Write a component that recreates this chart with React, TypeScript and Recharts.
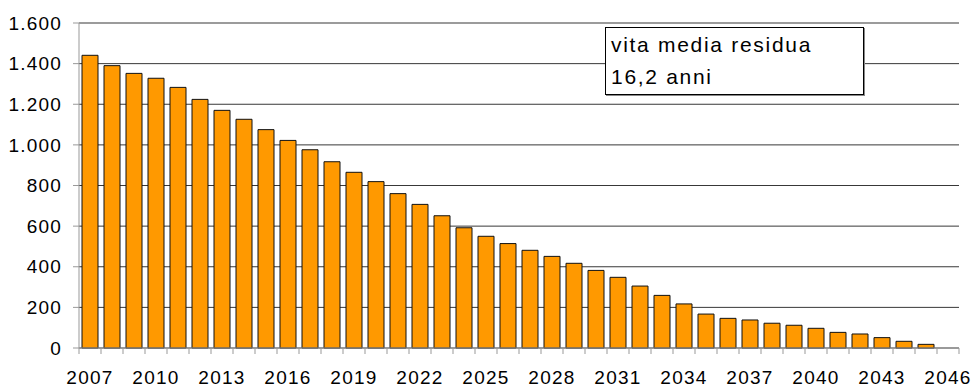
import React from "react";
import { BarChart, Bar, XAxis, YAxis, CartesianGrid } from "recharts";

const years: string[] = [
  "2007","2008","2009","2010","2011","2012","2013","2014","2015","2016",
  "2017","2018","2019","2020","2021","2022","2023","2024","2025","2026",
  "2027","2028","2029","2030","2031","2032","2033","2034","2035","2036",
  "2037","2038","2039","2040","2041","2042","2043","2044","2045","2046",
];
const values: number[] = [
  1441, 1390, 1352, 1328, 1283, 1224, 1170, 1126, 1075, 1022,
  976, 917, 865, 819, 760, 707, 651, 592, 550, 514,
  481, 451, 417, 382, 348, 305, 259, 217, 167, 146,
  138, 122, 112, 97, 77, 69, 51, 33, 18, 0,
];
const yTicks: number[] = [0, 200, 400, 600, 800, 1000, 1200, 1400, 1600];
const noteLines: string[] = ["vita media residua", "16,2 anni"];

const data = years.map((y, i) => ({ year: y, value: values[i] }));

const FONT = "'Liberation Sans', Arial, sans-serif";
const fmt = (v: number) => v.toLocaleString("de-DE");

const XTick = (props: any) => {
  const { x, y, payload, index } = props;
  const band = 880 / years.length;
  const i = index ?? payload.index;
  return (
    <g>
      <line x1={x - band / 2} x2={x - band / 2} y1={y - 8} y2={y - 2} stroke="#999" />
      {i === years.length - 1 && (
        <line x1={x + band / 2} x2={x + band / 2} y1={y - 8} y2={y - 2} stroke="#999" />
      )}
      {i % 3 === 0 && (
        <text x={x} y={y + 28} textAnchor="middle" fill="#000" fontSize={19} letterSpacing={1.3} fontFamily={FONT}>
          {payload.value}
        </text>
      )}
    </g>
  );
};

export default function App() {
  return (
    <div style={{ position: "absolute", left: 0, top: 0, width: 975, height: 388, background: "#fff", fontFamily: FONT }}>
      <BarChart
        width={975}
        height={388}
        data={data}
        margin={{ top: 23, right: 16, bottom: 0, left: 0 }}
        barSize={16}
      >
        <CartesianGrid horizontal vertical={false} stroke="#222" strokeOpacity={0.9} />
        <XAxis
          dataKey="year"
          interval={0}
          height={40}
          axisLine={{ stroke: "#999" }}
          tickLine={false}
          tick={<XTick />}
        />
        <YAxis
          width={79}
          domain={[0, 1600]}
          ticks={yTicks}
          tickFormatter={fmt}
          axisLine={{ stroke: "#999" }}
          tickLine={{ stroke: "#999" }}
          tickSize={6}
          tickMargin={11}
          tick={{ fill: "#000", fontSize: 19, fontFamily: FONT, letterSpacing: 1.2 }}
        />
        <Bar dataKey="value" fill="#FF9900" stroke="#111" strokeWidth={1} isAnimationActive={false} />
      </BarChart>
      <div
        style={{
          position: "absolute",
          left: 605,
          top: 27,
          width: 252,
          height: 65,
          border: "1px solid #000",
          background: "#fff",
          boxShadow: "1px 1px 0 #888",
          fontSize: 21,
          letterSpacing: 1.7,
          lineHeight: "32px",
          paddingLeft: 5,
          paddingTop: 1,
          boxSizing: "content-box",
          color: "#000",
          fontFamily: FONT,
        }}
      >
        {noteLines.map((t) => (
          <div key={t}>{t}</div>
        ))}
      </div>
    </div>
  );
}
